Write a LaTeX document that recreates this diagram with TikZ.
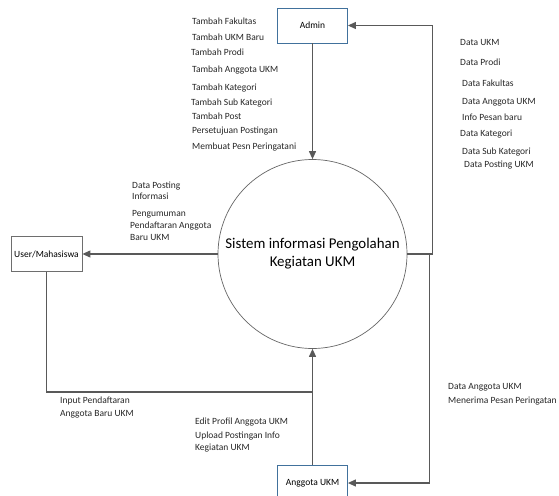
\documentclass[tikz,border=0pt]{standalone}
\usepackage{fontspec}
\setmainfont{Carlito}
\usetikzlibrary{arrows.meta}
\definecolor{entblue}{HTML}{41719C}
\definecolor{entgray}{HTML}{6E6E6E}
\definecolor{wire}{HTML}{595959}
\begin{document}
\begin{tikzpicture}[x=1pt,y=-1pt,
  lbl/.style={anchor=base west,inner sep=0pt,font=\fontsize{9.5}{11}\selectfont,text=black!85},
  ent/.style={draw=#1,line width=0.8pt,minimum width=70pt,minimum height=35pt,inner sep=0pt,
    font=\fontsize{9.5}{11}\selectfont},
  link/.style={draw=wire,line width=1.1pt},
  flow/.style={link,-{Triangle[width=7pt,length=8pt]}}]
\useasboundingbox (0,0) rectangle (559,495);

% external entities and the process
\node[ent=entblue] (admin) at (312.5,25.5) {Admin};
\node[ent=entgray,minimum width=71pt] (user) at (46.5,254) {User/Mahasiswa};
\node[ent=entblue] (anggota) at (312.5,483) {Anggota UKM};
\node[circle,draw=black!60,line width=0.7pt,minimum size=189pt,inner sep=0pt,align=center,
  font=\fontsize{14.9}{18}\selectfont] (sys) at (312.5,254)
  {Sistem informasi Pengolahan\\Kegiatan UKM};

% data flows
\coordinate (join) at (312.5,392);
\draw[flow] (admin.south) -- (sys.north);
\draw[flow] (sys.east) -- ++(25,0) |- (admin.east);
\draw[flow] (sys.west) -- (user.east);
\draw[flow] (sys.east) -- ++(22,0) |- (anggota.east);
\draw[link] (user.south) |- (join);
\draw[flow] (anggota.north) -- (sys.south);

% Admin -> system
\node[lbl] (a1) at (192,24.5) {Tambah Fakultas};
\node[lbl] (a2) at (192,41) {Tambah UKM Baru};
\node[lbl] (a3) at (191,55.5) {Tambah Prodi};
\node[lbl] (a4) at (192,73) {Tambah Anggota UKM};
\node[lbl] (a5) at (192,90) {Tambah Kategori};
\node[lbl] (a6) at (191,105) {Tambah Sub Kategori};
\node[lbl] (a7) at (192,119) {Tambah Post};
\node[lbl] (a8) at (192,133) {Persetujuan Postingan};
\node[lbl] (a9) at (192,149.5) {Membuat Pesn Peringatani};

% system -> Admin
\node[lbl] (b1) at (460,46) {Data UKM};
\node[lbl] (b2) at (460,65) {Data Prodi};
\node[lbl] (b3) at (462,86) {Data Fakultas};
\node[lbl] (b4) at (462,104) {Data Anggota UKM};
\node[lbl] (b5) at (462,120) {Info Pesan baru};
\node[lbl] (b6) at (460,136) {Data Kategori};
\node[lbl] (b7) at (462,154) {Data Sub Kategori};
\node[lbl] (b8) at (464,167) {Data Posting UKM};

% system -> User/Mahasiswa
\node[lbl] (c1) at (132,188) {Data Posting};
\node[lbl] (c2) at (132,199) {Informasi};
\node[lbl] (c3) at (132,216) {Pengumuman};
\node[lbl] (c4) at (130,228) {Pendaftaran Anggota};
\node[lbl] (c5) at (130,240) {Baru UKM};

% User/Mahasiswa -> system
\node[lbl] (d1) at (60,403) {Input Pendaftaran};
\node[lbl] (d2) at (60,416) {Anggota Baru UKM};

% Anggota UKM -> system
\node[lbl] (e1) at (195,424) {Edit Profil Anggota UKM};
\node[lbl] (e2) at (195,438) {Upload Postingan Info};
\node[lbl] (e3) at (195,450) {Kegiatan UKM};

% system -> Anggota UKM
\node[lbl] (f1) at (448,389) {Data Anggota UKM};
\node[lbl] (f2) at (448,403) {Menerima Pesan Peringatan};
\end{tikzpicture}
\end{document}
